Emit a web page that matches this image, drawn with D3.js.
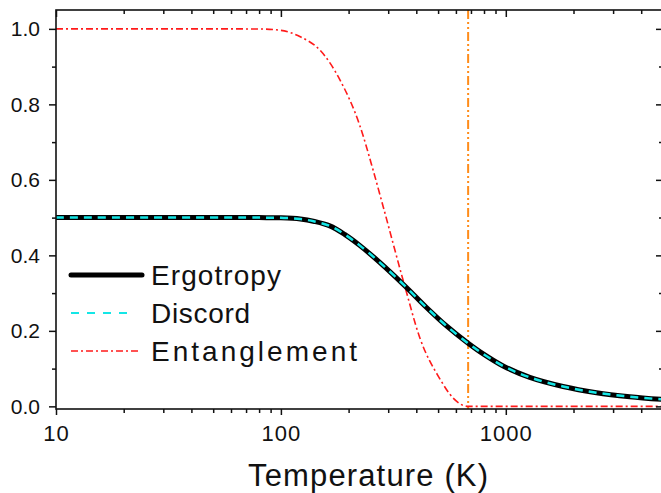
<!DOCTYPE html>
<html>
<head>
<meta charset="utf-8">
<script src="https://cdn.jsdelivr.net/npm/d3@7"></script>
<style>
  body { margin: 0; background: #fff; }
  svg { display: block; font-family: "Liberation Sans", Arial, sans-serif; }
</style>
</head>
<body>
<svg></svg>
<script>
// values
const ergoTemps = [10, 40, 80, 100, 122, 141, 165, 192, 224, 275, 356, 444, 545, 680, 766, 973, 1278, 1797, 2531, 3557, 5000];
const ergoValues = [0.5, 0.5, 0.5, 0.4995, 0.4964, 0.4898, 0.478, 0.4556, 0.4265, 0.3815, 0.319, 0.262, 0.213, 0.167, 0.145, 0.107, 0.0768, 0.0527, 0.0363, 0.0257, 0.0183];

const discordTemps = [10, 40, 80, 100, 122, 141, 165, 192, 224, 275, 356, 444, 545, 680, 766, 973, 1278, 1797, 2531, 3557, 5000];
const discordValues = [0.5, 0.5, 0.5, 0.4995, 0.4964, 0.4898, 0.478, 0.4556, 0.4265, 0.3815, 0.319, 0.262, 0.213, 0.167, 0.145, 0.107, 0.0768, 0.0527, 0.0363, 0.0257, 0.0183];

const entTemps = [10, 50, 80, 100, 122, 149, 183, 224, 257, 285, 356, 415, 509, 583, 680, 5000];
const entValues = [1, 1, 0.9997, 0.996, 0.979, 0.944, 0.865, 0.745, 0.626, 0.529, 0.317, 0.181, 0.073, 0.022, 0, 0];

const critTemp = 680;

const xMajor = [10, 100, 1000];
const xMinor = [20, 30, 40, 50, 60, 70, 80, 90, 200, 300, 400, 500, 600, 700, 800, 900, 2000, 3000, 4000, 5000];
const yMajor = [0, 0.2, 0.4, 0.6, 0.8, 1.0];
const yMinor = [0.1, 0.3, 0.5, 0.7, 0.9];

const seriesNames = ['Ergotropy', 'Discord', 'Entanglement'];

const w = 661;
const h = 493;
const plotL = 56, plotR = 663, plotT = 10, plotB = 409;

const svg = d3.select('svg').attr('width', w).attr('height', h);

const x = d3.scaleLog().domain([10, 5000]).range([plotL, plotR]);
const y = d3.scaleLinear().domain([-0.007, 1.05]).range([plotB, plotT]);

svg.append('defs').append('clipPath').attr('id', 'plot')
  .append('rect').attr('x', plotL).attr('y', plotT)
  .attr('width', plotR - plotL).attr('height', plotB - plotT);

const smoothLine = d3.line()
  .x((d) => x(d[0]))
  .y((d) => y(d[1]))
  .curve(d3.curveCatmullRom.alpha(0.5));

// monotone keeps the entanglement tail from dipping below zero
const monoLine = d3.line()
  .x((d) => x(d[0]))
  .y((d) => y(d[1]))
  .curve(d3.curveMonotoneX);

const plot = svg.append('g').attr('clip-path', 'url(#plot)');

// critical temperature marker
plot.append('line')
  .attr('x1', x(critTemp)).attr('x2', x(critTemp))
  .attr('y1', plotT).attr('y2', plotB)
  .attr('stroke', '#ff8c1a').attr('stroke-width', 2)
  .attr('stroke-dasharray', '9,3,2,3,2,3');

plot.append('path')
  .datum(d3.zip(entTemps, entValues))
  .attr('d', monoLine)
  .attr('fill', 'none').attr('stroke', '#ff1a1a').attr('stroke-width', 1.6)
  .attr('stroke-dasharray', '7,3,2,3');

plot.append('path')
  .datum(d3.zip(ergoTemps, ergoValues))
  .attr('d', smoothLine)
  .attr('fill', 'none').attr('stroke', '#000').attr('stroke-width', 5);

plot.append('path')
  .datum(d3.zip(discordTemps, discordValues))
  .attr('d', smoothLine)
  .attr('fill', 'none').attr('stroke', '#14e6e6').attr('stroke-width', 2.5)
  .attr('stroke-dasharray', '8,6');

// axes: ticks out on left/bottom, in on top/right
const styleAxis = (g) => {
  g.select('.domain').remove();
  g.selectAll('line').attr('stroke', '#111').attr('stroke-width', 1.5);
};

svg.append('g').attr('transform', `translate(0,${plotB})`)
  .call(d3.axisBottom(x).tickValues(xMinor).tickSize(4).tickFormat(''))
  .call(styleAxis);
svg.append('g').attr('transform', `translate(0,${plotB})`)
  .call(d3.axisBottom(x).tickValues(xMajor).tickSize(6).tickPadding(10).tickFormat(d3.format('d')))
  .call(styleAxis)
  .selectAll('text').attr('font-size', 22).attr('letter-spacing', 1).attr('fill', '#111')
  .attr('font-family', '"Liberation Sans", Arial, sans-serif');

svg.append('g').attr('transform', `translate(0,${plotT})`)
  .call(d3.axisTop(x).tickValues(xMinor).tickSize(-4).tickFormat(''))
  .call(styleAxis);
svg.append('g').attr('transform', `translate(0,${plotT})`)
  .call(d3.axisTop(x).tickValues(xMajor).tickSize(-7).tickFormat(''))
  .call(styleAxis);

svg.append('g').attr('transform', `translate(${plotL},0)`)
  .call(d3.axisLeft(y).tickValues(yMinor).tickSize(4).tickFormat(''))
  .call(styleAxis);
svg.append('g').attr('transform', `translate(${plotL},0)`)
  .call(d3.axisLeft(y).tickValues(yMajor).tickSize(7).tickPadding(9).tickFormat(d3.format('.1f')))
  .call(styleAxis)
  .selectAll('text').attr('font-size', 21).attr('fill', '#111')
  .attr('font-family', '"Liberation Sans", Arial, sans-serif');

svg.append('g').attr('transform', `translate(${plotR},0)`)
  .call(d3.axisRight(y).tickValues(yMinor).tickSize(-4).tickFormat(''))
  .call(styleAxis);
svg.append('g').attr('transform', `translate(${plotR},0)`)
  .call(d3.axisRight(y).tickValues(yMajor).tickSize(-7).tickFormat(''))
  .call(styleAxis);

// frame
svg.append('rect')
  .attr('x', plotL).attr('y', plotT)
  .attr('width', plotR - plotL).attr('height', plotB - plotT)
  .attr('fill', 'none').attr('stroke', '#111').attr('stroke-width', 1.6);

// axis title
svg.append('text')
  .attr('x', 368).attr('y', 486)
  .attr('text-anchor', 'middle')
  .attr('font-size', 31)
  .attr('textLength', 240).attr('lengthAdjust', 'spacing')
  .attr('fill', '#111')
  .text('Temperature (K)');

// legend
const legendRows = [
  { name: seriesNames[0], y: 275, base: 285, len: 130, x2: 142, stroke: '#000', width: 5, dash: null, cap: 'round' },
  { name: seriesNames[1], y: 313, base: 322.5, len: 99, x2: 131, stroke: '#14e6e6', width: 2, dash: '8,8', cap: 'butt' },
  { name: seriesNames[2], y: 351, base: 360.5, len: 206, x2: 141, stroke: '#ff1a1a', width: 1.6, dash: '7,3,2,3', cap: 'butt' }
];

const legend = svg.append('g');
legendRows.forEach((r) => {
  legend.append('line')
    .attr('x1', 71).attr('x2', r.x2).attr('y1', r.y).attr('y2', r.y)
    .attr('stroke', r.stroke).attr('stroke-width', r.width)
    .attr('stroke-linecap', r.cap)
    .attr('stroke-dasharray', r.dash);
  legend.append('text')
    .attr('x', 151).attr('y', r.base)
    .attr('font-size', 28)
    .attr('textLength', r.len).attr('lengthAdjust', 'spacing')
    .attr('fill', '#111')
    .text(r.name);
});
</script>
</body>
</html>
